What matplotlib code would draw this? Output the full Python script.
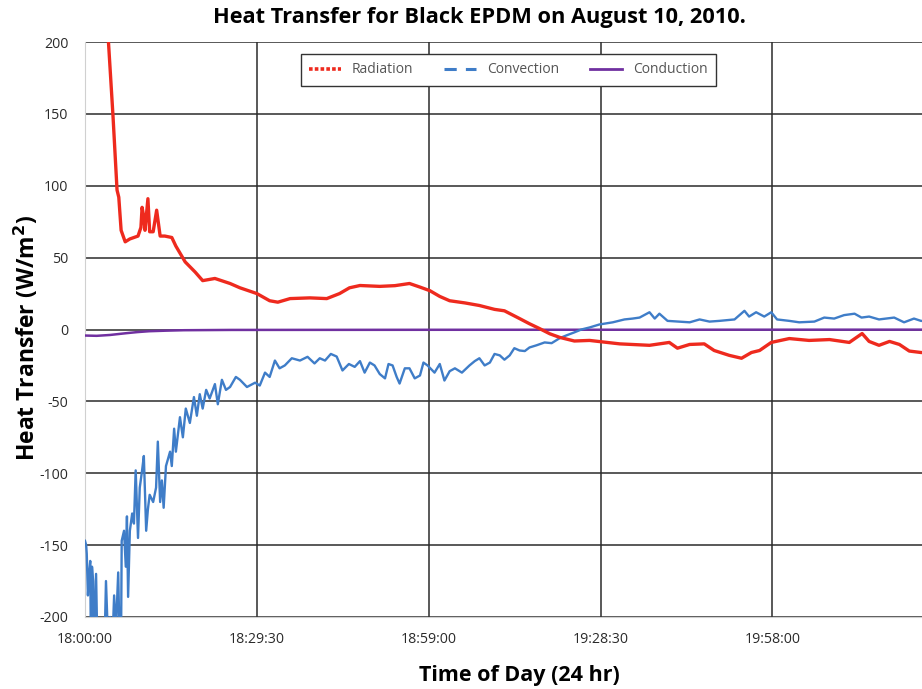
import matplotlib.pyplot as plt
from matplotlib.lines import Line2D
from matplotlib.ticker import FuncFormatter, MultipleLocator

# minutes after 18:00:00 and heat transfer values (W/m^2)
rad_t = [3.8, 4.8, 5.5, 5.8, 6.2, 6.9, 7.7, 9.1, 9.6, 9.8, 10.1, 10.3, 10.8, 11.1, 11.7,
         12.3, 12.9, 13.7, 14.9, 15.6, 17.2, 18.9, 20.2, 22.3, 24.9, 26.6, 29.5, 31.7,
         33.1, 35.2, 38.6, 41.5, 43.7, 45.4, 47.2, 50.6, 53.2, 55.7, 57.5, 59.2, 60.9,
         62.6, 65.2, 67.7, 70.3, 72.0, 74.6, 76.3, 78.0, 79.8, 81.5, 84.0, 86.6, 91.8,
         96.9, 100.3, 101.7, 103.8, 106.3, 108.0, 110.6, 112.7, 114.4, 115.8, 117.8,
         120.9, 124.3, 127.8, 131.2, 133.4, 134.6, 136.3, 138.1, 139.8, 141.5, 143.5, 149.0]
rad_q = [215, 149, 97, 92, 69, 61, 63, 65, 71, 85, 78, 69, 91, 68, 68,
         83, 65, 65, 64, 58, 47, 40, 34, 35.5, 32, 29, 25, 20,
         19, 21.5, 22, 21.5, 25, 29, 30.6, 30, 30.5, 32, 29.5, 27, 23,
         20, 18.5, 16.7, 14, 13, 7.6, 4, 0.7, -3, -5.5, -8, -7.6, -10,
         -11, -9, -13, -10.4, -10, -14.6, -18, -20, -16, -14.6, -9,
         -6.3, -7.6, -7, -9, -2.8, -8.3, -11, -8.3, -10.4, -15, -16, -17]

conv_t = [0.0, 0.2, 0.3, 0.5, 0.7, 0.9, 1.0, 1.2, 1.4, 1.5, 1.9, 2.1, 2.6, 3.3, 3.6,
          3.9, 4.3, 4.6, 5.0, 5.3, 5.7, 6.0, 6.2, 6.3, 6.7, 7.0, 7.2, 7.4, 7.7, 8.1,
          8.4, 8.7, 9.1, 9.4, 9.8, 10.1, 10.5, 10.8, 11.1, 11.7, 12.2, 12.5, 12.9, 13.2,
          13.5, 13.9, 14.6, 14.9, 15.3, 15.6, 16.3, 16.8, 17.3, 18.0, 18.7, 19.2, 19.7,
          20.2, 20.8, 21.4, 22.3, 22.8, 23.5, 24.2, 24.9, 25.9, 26.6, 27.8, 29.2, 30.0,
          30.9, 31.7, 32.6, 33.4, 34.3, 35.5, 36.9, 38.2, 39.4, 40.3, 41.2, 42.2, 43.2,
          44.2, 45.3, 46.3, 47.2, 48.0, 48.9, 49.7, 50.6, 51.5, 52.1, 52.8, 53.5, 54.0,
          54.9, 55.7, 56.6, 57.5, 58.1, 58.8, 60.0, 60.9, 61.7, 62.6, 63.5, 64.7, 66.0,
          66.9, 67.7, 68.6, 69.5, 70.3, 71.2, 72.0, 72.9, 73.7, 74.6, 75.5, 76.3, 77.5,
          78.9, 80.1, 81.5, 82.7, 84.0, 85.2, 86.6, 88.3, 90.6, 92.6, 94.0, 95.2, 96.9,
          97.8, 98.6, 100.0, 102.0, 103.8, 105.5, 107.2, 108.9, 111.5, 113.2, 114.0, 115.2,
          116.6, 117.8, 118.8, 120.9, 122.6, 125.2, 126.9, 128.6, 130.3, 132.1, 133.3,
          134.6, 136.3, 138.9, 140.6, 142.3, 143.5, 149.0]
conv_q = [-147, -150, -156, -185, -170, -161, -215, -165, -175, -230, -170, -215, -230, -230, -175,
          -210, -200, -230, -185, -210, -169, -230, -210, -147, -140, -165, -130, -186, -140, -128,
          -135, -98, -145, -110, -98, -88, -140, -125, -115, -120, -110, -78, -120, -105,
          -124, -95, -85, -95, -69, -85, -61, -75, -55, -65, -47, -60, -45,
          -55, -42, -48, -38, -52, -35, -42, -40, -33, -35, -40, -37, -39,
          -30, -33, -21.6, -27, -25, -20, -21.6, -19, -23.6, -20, -21.6, -17, -18.8,
          -28.5, -24, -26, -22, -30, -23, -25, -31, -34, -24, -25, -33, -37.6,
          -27, -27, -34, -32, -23, -25, -30, -24, -35.5, -29, -27, -30, -25,
          -22, -20, -25, -23, -17, -18, -21, -18, -13, -14.6, -15, -12.5, -11,
          -9, -9.5, -6, -4, -2, 0, 1.4, 3.5, 5, 7, 7.6, 8.3, 12,
          7.6, 11, 6, 5.5, 5, 7, 5.5, 6, 7, 13, 9, 12,
          9, 12, 7, 6, 5, 5.5, 8.3, 7.6, 10, 11, 8.3,
          9, 7, 8.3, 5, 7.6, 6, 5]

cond_t = [0, 2, 4.3, 7, 9, 11, 14, 17, 25, 60, 149]
cond_q = [-4.2, -4.4, -3.8, -2.6, -1.8, -1.2, -0.8, -0.5, -0.3, -0.2, -0.1]

tick_minutes = [0, 29.5, 59, 88.5, 118]


def hms(m, pos=None):
    s = int(round(m * 60)) + 18 * 3600
    return f'{s // 3600:02d}:{(s % 3600) // 60:02d}:{s % 60:02d}'


plt.rcParams['font.family'] = ['Open Sans', 'DejaVu Sans']
plt.rcParams['axes.unicode_minus'] = False

fig = plt.figure(figsize=(9.22, 6.89), dpi=100)
ax = fig.add_axes([85 / 922, 1 - 617 / 689, 868 / 922, 575 / 689])

red = '#ee2a1e'
blue = '#3f7dc8'
purple = '#7030a0'

ax.plot(cond_t, cond_q, color=purple, lw=1.8, zorder=3)
ax.plot(conv_t, conv_q, color=blue, lw=1.7, zorder=4)
ax.plot(rad_t, rad_q, color=red, lw=2.4, zorder=5)

ax.set_xlim(0, 149)
ax.set_ylim(-200, 200)
ax.set_xticks(tick_minutes)
ax.xaxis.set_major_formatter(FuncFormatter(hms))
ax.yaxis.set_major_locator(MultipleLocator(50))
ax.grid(True, color='#2b2b2b', lw=1.1)
ax.set_axisbelow(True)
ax.tick_params(length=0, labelsize=10.2, colors='#2a2a2a')
ax.tick_params(axis='x', pad=11)
ax.tick_params(axis='y', pad=12)
for side in ['top', 'right']:
    ax.spines[side].set_visible(False)
for side in ['left', 'bottom']:
    ax.spines[side].set_color('#d0d0d0')

fig.text(479 / 922, 1 - 18 / 689, 'Heat Transfer for Black EPDM on August 10, 2010.',
         ha='center', va='center', fontsize=15.7, fontweight='bold')
fig.text(519 / 922, 1 - 675 / 689, 'Time of Day (24 hr)',
         ha='center', va='center', fontsize=15.5, fontweight='bold')
fig.text(27 / 922, 1 - 338 / 689, 'Heat Transfer (W/m$^\\mathbf{2}$)', rotation=90,
         ha='center', va='center', fontsize=16.5, fontweight='bold')

handles = [
    Line2D([], [], color=red, lw=2.6, ls=(0, (1, 0.6))),
    Line2D([], [], color=blue, lw=2.2, ls=(0, (4, 3))),
    Line2D([], [], color=purple, lw=2.0),
]
leg = ax.legend(handles, ['Radiation', 'Convection', 'Conduction'], ncol=3,
                loc='upper center', bbox_to_anchor=(0.4875, 0.991), fancybox=False,
                framealpha=1, edgecolor='#333333', fontsize=10, handlelength=2.3,
                columnspacing=2.2, borderpad=0.6)
for txt in leg.get_texts():
    txt.set_color('#555555')

fig.savefig('out.png', dpi=100)
